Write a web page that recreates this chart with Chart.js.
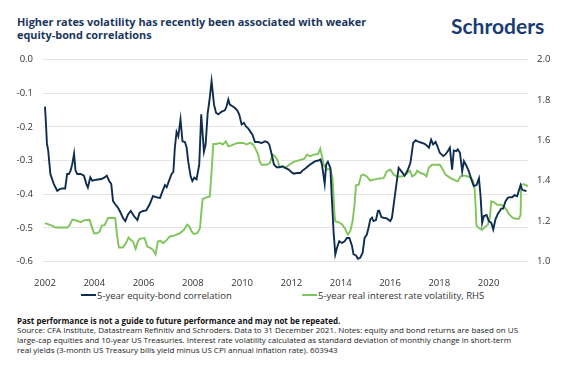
<!DOCTYPE html>
<html>
<head>
<meta charset="utf-8">
<script src="https://cdn.jsdelivr.net/npm/chart.js@4.4.1/dist/chart.umd.min.js"></script>
<style>
  body { margin: 0; background: #fff; font-family: 'Open Sans', sans-serif; }
  #page { position: relative; width: 571px; height: 368px; overflow: hidden; }
  #title { position: absolute; left: 17px; top: 16px; font-weight: 700; font-size: 10.9px; line-height: 12.5px; color: #1b365d; white-space: nowrap; }
  #logo { position: absolute; left: 451px; top: 13px; font-family: Lato, sans-serif; font-weight: 700; font-size: 21px; color: #1a3c74; }
  #chartBox { position: absolute; left: 0; top: 0; width: 571px; height: 286px; }
  .leg { position: absolute; top: 289px; font-size: 9.5px; color: #333; white-space: nowrap; }
  .leg i { display: inline-block; width: 15px; height: 2px; vertical-align: middle; margin-right: 1px; position: relative; top: -1px; }
  #footer { position: absolute; left: 17px; top: 315.5px; font-size: 8px; line-height: 9.7px; color: #1a1a1a; white-space: nowrap; }
  #footer b { font-weight: 700; color: #111; }
</style>
</head>
<body>
<div id="page">
  <div id="title">Higher rates volatility has recently been associated with weaker<br>equity-bond correlations</div>
  <div id="logo">Schroders</div>
  <div id="chartBox"><canvas id="chart"></canvas></div>
  <div class="leg" style="left:81px"><i style="background:#0f2d4f"></i>5-year equity-bond correlation</div>
  <div class="leg" style="left:302px"><i style="background:#80c45c"></i>5-year real interest rate volatility, RHS</div>
  <div id="footer"><b>Past performance is not a guide to future performance and may not be repeated.</b><br>Source: CFA Institute, Datastream Refinitiv and Schroders. Data to 31 December 2021. Notes: equity and bond returns are based on US<br>large-cap equities and 10-year US Treasuries. Interest rate volatility calculated as standard deviation of monthly change in short-term<br>real yields (3-month US Treasury bills yield minus US CPI annual inflation rate). 603943</div>
</div>
<script>
// 5-year equity-bond correlation (left axis)
const corrYears = [
  2002.00, 2002.04, 2002.08, 2002.13, 2002.22, 2002.36, 2002.50, 2002.60, 2002.70, 2002.82,
  2002.90, 2002.97, 2003.04, 2003.11, 2003.18, 2003.24, 2003.31, 2003.45, 2003.58, 2003.68,
  2003.74, 2003.84, 2003.92, 2004.08, 2004.29, 2004.42, 2004.51, 2004.60, 2004.69, 2004.76,
  2004.85, 2004.96, 2005.07, 2005.16, 2005.26, 2005.37, 2005.48, 2005.61, 2005.75, 2005.84,
  2005.98, 2006.11, 2006.25, 2006.38, 2006.56, 2006.67, 2006.77, 2006.87, 2006.94, 2007.04,
  2007.14, 2007.21, 2007.27, 2007.34, 2007.41, 2007.50, 2007.58, 2007.68, 2007.75, 2007.81,
  2007.91, 2007.98, 2008.06, 2008.15, 2008.26, 2008.34, 2008.40, 2008.45, 2008.52, 2008.60,
  2008.67, 2008.76, 2008.86, 2008.94, 2009.03, 2009.17, 2009.30, 2009.37, 2009.44, 2009.50,
  2009.61, 2009.71, 2009.80, 2009.88, 2009.98, 2010.07, 2010.15, 2010.25, 2010.34, 2010.42,
  2010.52, 2010.65, 2010.79, 2010.93, 2011.02, 2011.10, 2011.20, 2011.29, 2011.40, 2011.53,
  2011.64, 2011.75, 2011.89, 2011.99, 2012.09, 2012.22, 2012.36, 2012.45, 2012.59, 2012.72,
  2012.86, 2012.97, 2013.10, 2013.18, 2013.24, 2013.35, 2013.41, 2013.48, 2013.58, 2013.64,
  2013.71, 2013.78, 2013.85, 2013.94, 2014.05, 2014.16, 2014.25, 2014.35, 2014.46, 2014.52,
  2014.62, 2014.70, 2014.79, 2014.89, 2014.97, 2015.06, 2015.13, 2015.20, 2015.27, 2015.33,
  2015.43, 2015.51, 2015.56, 2015.65, 2015.74, 2015.87, 2016.01, 2016.08, 2016.15, 2016.24,
  2016.35, 2016.48, 2016.59, 2016.70, 2016.83, 2016.94, 2017.04, 2017.17, 2017.31, 2017.44,
  2017.58, 2017.67, 2017.75, 2017.85, 2017.92, 2018.02, 2018.16, 2018.25, 2018.35, 2018.43,
  2018.52, 2018.59, 2018.69, 2018.75, 2018.84, 2018.93, 2019.00, 2019.11, 2019.20, 2019.30,
  2019.40, 2019.51, 2019.61, 2019.67, 2019.74, 2019.81, 2019.92, 2020.01, 2020.11, 2020.19,
  2020.28, 2020.38, 2020.46, 2020.51, 2020.59, 2020.69, 2020.78, 2020.86, 2020.96, 2021.05,
  2021.16, 2021.23, 2021.30, 2021.36, 2021.43, 2021.54
];
const corrValues = [
  -0.140, -0.190, -0.250, -0.270, -0.340, -0.370, -0.390, -0.385, -0.383, -0.383,
  -0.340, -0.340, -0.330, -0.310, -0.280, -0.330, -0.340, -0.340, -0.345, -0.370,
  -0.380, -0.350, -0.360, -0.357, -0.355, -0.350, -0.345, -0.360, -0.370, -0.420,
  -0.430, -0.440, -0.455, -0.470, -0.480, -0.460, -0.450, -0.465, -0.477, -0.455,
  -0.450, -0.448, -0.430, -0.406, -0.410, -0.411, -0.391, -0.373, -0.379, -0.359,
  -0.340, -0.334, -0.262, -0.215, -0.228, -0.178, -0.243, -0.245, -0.262, -0.302,
  -0.347, -0.361, -0.351, -0.356, -0.312, -0.163, -0.223, -0.274, -0.252, -0.161,
  -0.124, -0.064, -0.134, -0.158, -0.163, -0.155, -0.151, -0.139, -0.119, -0.134,
  -0.139, -0.144, -0.151, -0.163, -0.193, -0.188, -0.198, -0.205, -0.215, -0.223,
  -0.245, -0.245, -0.248, -0.243, -0.245, -0.252, -0.282, -0.312, -0.320, -0.320,
  -0.317, -0.322, -0.327, -0.334, -0.339, -0.337, -0.337, -0.330, -0.322, -0.314,
  -0.307, -0.302, -0.300, -0.297, -0.312, -0.369, -0.312, -0.304, -0.322, -0.411,
  -0.510, -0.579, -0.559, -0.540, -0.545, -0.540, -0.530, -0.530, -0.554, -0.579,
  -0.582, -0.592, -0.589, -0.574, -0.530, -0.520, -0.500, -0.475, -0.470, -0.480,
  -0.477, -0.450, -0.449, -0.468, -0.470, -0.472, -0.480, -0.470, -0.431, -0.381,
  -0.322, -0.334, -0.345, -0.332, -0.307, -0.248, -0.240, -0.245, -0.248, -0.252,
  -0.262, -0.238, -0.252, -0.245, -0.257, -0.277, -0.287, -0.282, -0.272, -0.262,
  -0.327, -0.270, -0.272, -0.267, -0.277, -0.332, -0.302, -0.317, -0.332, -0.356,
  -0.376, -0.373, -0.353, -0.401, -0.485, -0.465, -0.462, -0.480, -0.485, -0.505,
  -0.475, -0.458, -0.449, -0.443, -0.443, -0.421, -0.411, -0.409, -0.409, -0.403,
  -0.406, -0.389, -0.373, -0.386, -0.389, -0.391
];

// 5-year real interest rate volatility (right axis)
const volYears = [
  2002.00, 2002.12, 2002.28, 2002.42, 2002.91, 2003.00, 2003.11, 2003.27, 2003.45, 2003.61,
  2003.81, 2003.88, 2003.99, 2004.12, 2004.22, 2004.31, 2004.42, 2004.56, 2004.85, 2004.93,
  2005.00, 2005.16, 2005.30, 2005.39, 2005.48, 2005.57, 2005.68, 2005.77, 2005.84, 2006.04,
  2006.15, 2006.29, 2006.38, 2006.49, 2006.58, 2006.69, 2006.80, 2006.94, 2007.07, 2007.27,
  2007.48, 2007.64, 2007.77, 2007.86, 2007.95, 2008.04, 2008.18, 2008.29, 2008.36, 2008.40,
  2008.56, 2008.69, 2008.76, 2008.83, 2008.96, 2009.10, 2009.21, 2009.34, 2009.44, 2009.57,
  2009.71, 2009.84, 2010.05, 2010.18, 2010.32, 2010.45, 2010.56, 2010.65, 2010.72, 2010.79,
  2011.00, 2011.13, 2011.24, 2011.33, 2011.43, 2011.51, 2011.64, 2011.75, 2011.91, 2012.09,
  2012.26, 2012.40, 2012.53, 2012.63, 2012.76, 2012.90, 2013.08, 2013.17, 2013.24, 2013.31,
  2013.44, 2013.58, 2013.67, 2013.75, 2013.78, 2013.91, 2014.05, 2014.18, 2014.29, 2014.39,
  2014.48, 2014.56, 2014.62, 2014.73, 2014.83, 2014.93, 2015.06, 2015.20, 2015.33, 2015.54,
  2015.74, 2015.87, 2016.01, 2016.15, 2016.28, 2016.48, 2016.60, 2016.70, 2016.81, 2016.90,
  2017.04, 2017.10, 2017.24, 2017.38, 2017.48, 2017.58, 2017.71, 2017.92, 2018.02, 2018.12,
  2018.25, 2018.46, 2018.66, 2018.75, 2018.86, 2019.00, 2019.16, 2019.30, 2019.38, 2019.43,
  2019.47, 2019.51, 2019.61, 2019.74, 2019.88, 2019.97, 2020.05, 2020.11, 2020.21, 2020.35,
  2020.51, 2020.62, 2020.73, 2020.82, 2020.96, 2021.09, 2021.23, 2021.30, 2021.32, 2021.41,
  2021.50, 2021.60
];
const volValues = [
  1.190, 1.185, 1.178, 1.168, 1.168, 1.180, 1.207, 1.203, 1.195, 1.205,
  1.207, 1.180, 1.140, 1.140, 1.149, 1.178, 1.180, 1.215, 1.215, 1.124,
  1.069, 1.069, 1.094, 1.119, 1.107, 1.099, 1.063, 1.099, 1.112, 1.116,
  1.074, 1.066, 1.058, 1.036, 1.099, 1.102, 1.091, 1.107, 1.124, 1.129,
  1.140, 1.157, 1.182, 1.174, 1.149, 1.136, 1.140, 1.165, 1.264, 1.310,
  1.317, 1.322, 1.446, 1.582, 1.582, 1.587, 1.579, 1.595, 1.570, 1.575,
  1.582, 1.587, 1.587, 1.579, 1.587, 1.579, 1.554, 1.529, 1.493, 1.479,
  1.479, 1.488, 1.529, 1.521, 1.504, 1.471, 1.467, 1.463, 1.479, 1.493,
  1.499, 1.504, 1.509, 1.529, 1.521, 1.529, 1.532, 1.559, 1.521, 1.479,
  1.455, 1.460, 1.413, 1.231, 1.198, 1.195, 1.185, 1.162, 1.132, 1.152,
  1.198, 1.281, 1.377, 1.380, 1.426, 1.430, 1.421, 1.400, 1.405, 1.410,
  1.413, 1.446, 1.455, 1.430, 1.421, 1.421, 1.425, 1.438, 1.450, 1.421,
  1.433, 1.450, 1.438, 1.433, 1.421, 1.466, 1.479, 1.479, 1.479, 1.460,
  1.430, 1.413, 1.400, 1.397, 1.421, 1.426, 1.421, 1.413, 1.397, 1.364,
  1.281, 1.178, 1.165, 1.157, 1.174, 1.182, 1.215, 1.298, 1.294, 1.281,
  1.281, 1.273, 1.256, 1.235, 1.218, 1.212, 1.212, 1.231, 1.380, 1.383,
  1.380, 1.372
];

// axis tick labels
const xTickYears = [2002, 2004, 2006, 2008, 2010, 2012, 2014, 2016, 2018, 2020];
const leftTicks = [0, -0.1, -0.2, -0.3, -0.4, -0.5, -0.6];
const rightTicks = [2.0, 1.8, 1.6, 1.4, 1.2, 1.0];

const NAVY = '#0f2d4f';
const GREEN = '#80c45c';
const tickFont = { family: "'Open Sans', sans-serif", size: 9.5 };

const toPoints = (xs, ys) => xs.map((x, i) => ({ x: x, y: ys[i] }));

new Chart(document.getElementById('chart'), {
  type: 'line',
  data: {
    datasets: [
      {
        label: '5-year equity-bond correlation',
        data: toPoints(corrYears, corrValues),
        borderColor: NAVY,
        borderWidth: 1.9,
        pointRadius: 0,
        tension: 0,
        yAxisID: 'y',
      },
      {
        label: '5-year real interest rate volatility, RHS',
        data: toPoints(volYears, volValues),
        borderColor: GREEN,
        borderWidth: 1.9,
        pointRadius: 0,
        tension: 0,
        yAxisID: 'y2',
      },
    ],
  },
  options: {
    responsive: true,
    maintainAspectRatio: false,
    animation: false,
    layout: { padding: { top: 59.5, left: 0, right: 0, bottom: 0 } },
    plugins: { legend: { display: false }, tooltip: { enabled: false } },
    scales: {
      x: {
        type: 'linear',
        min: 2001.92,
        max: 2021.6,
        grid: { display: false },
        border: { display: false },
        afterBuildTicks: (axis) => { axis.ticks = xTickYears.map((v) => ({ value: v })); },
        afterFit: (axis) => { axis.height = 24.5; },
        ticks: { color: '#333', font: tickFont, padding: 8, maxRotation: 0, autoSkip: false, callback: (v) => String(v) },
      },
      y: {
        position: 'left',
        min: -0.6,
        max: 0,
        grid: { color: '#e4e4e4', lineWidth: 1, drawTicks: false },
        border: { display: false },
        afterBuildTicks: (axis) => { axis.ticks = leftTicks.map((v) => ({ value: v })); },
        afterFit: (axis) => { axis.width = 43; },
        ticks: { color: '#333', font: tickFont, padding: 10, callback: (v) => v.toFixed(1) },
      },
      y2: {
        position: 'right',
        min: 1.0,
        max: 2.0,
        grid: { display: false, drawTicks: false },
        border: { display: false },
        afterBuildTicks: (axis) => { axis.ticks = rightTicks.map((v) => ({ value: v })); },
        afterFit: (axis) => { axis.width = 43; },
        ticks: { color: '#333', font: tickFont, padding: 9, callback: (v) => v.toFixed(1) },
      },
    },
  },
});
</script>
</body>
</html>
